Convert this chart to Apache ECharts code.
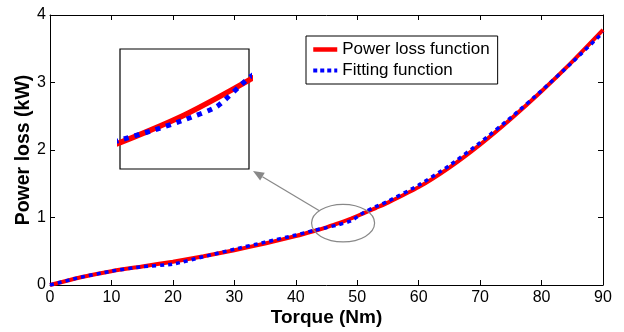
<!DOCTYPE html>
<html>
<head>
<meta charset="utf-8">
<script src="https://cdn.jsdelivr.net/npm/echarts@6/dist/echarts.min.js"></script>
<style>
html,body{margin:0;padding:0;background:#fff;}
#c{width:624px;height:332px;}
</style>
</head>
<body>
<div id="c"></div>
<script>
const torque =    [0, 5, 10, 15, 20, 25, 30, 35, 40, 43, 45, 47, 49, 51, 53, 55, 60, 65, 70, 75, 80, 85, 90];
const powerLoss = [0, 0.115, 0.205, 0.275, 0.345, 0.425, 0.515, 0.615, 0.725, 0.80, 0.855, 0.915, 0.985, 1.06, 1.14, 1.22, 1.45, 1.74, 2.08, 2.46, 2.87, 3.31, 3.78];
const fitting =   [0, 0.115, 0.205, 0.27, 0.31, 0.42, 0.53, 0.635, 0.74, 0.81, 0.85, 0.895, 0.95, 1.07, 1.16, 1.24, 1.48, 1.77, 2.11, 2.48, 2.88, 3.30, 3.74];
const seriesNames = ['Power loss function', 'Fitting function'];
const xTitle = 'Torque (Nm)';
const yTitle = 'Power loss (kW)';

const FONT = '"Liberation Sans", Arial, Helvetica, sans-serif';
const pairs = (ys) => torque.map((t, i) => [t, ys[i]]);

const chart = echarts.init(document.getElementById('c'), null, {renderer: 'canvas'});

const hidden = {
  axisLine: {show: false}, axisTick: {show: false}, axisLabel: {show: false}, splitLine: {show: false}
};
const frameLine = {show: true, onZero: false, lineStyle: {color: '#000', width: 1}};
const frameTick = {show: true, inside: true, length: 5, lineStyle: {color: '#000'}};

const option = {
  animation: false,
  backgroundColor: '#fff',
  textStyle: {fontFamily: FONT},
  grid: [
    {left: 50, top: 15, right: 21, bottom: 43, show: false},
    {left: 120, top: 49, width: 129, height: 120, show: true, borderColor: '#000', borderWidth: 1.2, backgroundColor: '#fff', z: 5}
  ],
  xAxis: [
    {
      type: 'value', gridIndex: 0, min: 0, max: 90, interval: 10, position: 'bottom',
      name: xTitle, nameLocation: 'middle', nameGap: 23, nameMoveOverlap: false,
      nameTextStyle: {fontSize: 19, fontWeight: 'bold', color: '#000', fontFamily: FONT},
      axisLine: frameLine, axisTick: frameTick,
      axisLabel: {fontSize: 16, color: '#000', margin: 5, fontFamily: FONT},
      splitLine: {show: false}
    },
    {
      type: 'value', gridIndex: 0, min: 0, max: 90, interval: 10, position: 'top',
      axisLine: frameLine, axisTick: frameTick,
      axisLabel: {show: false}, splitLine: {show: false}
    },
    Object.assign({type: 'value', gridIndex: 1, min: 43, max: 51}, hidden)
  ],
  yAxis: [
    {
      type: 'value', gridIndex: 0, min: 0, max: 4, interval: 1, position: 'left',
      name: yTitle, nameLocation: 'middle', nameGap: 16, nameMoveOverlap: false,
      nameTextStyle: {fontSize: 19.5, fontWeight: 'bold', color: '#000', fontFamily: FONT},
      axisLine: frameLine, axisTick: frameTick,
      axisLabel: {fontSize: 16, color: '#000', margin: 4, fontFamily: FONT},
      splitLine: {show: false}
    },
    {
      type: 'value', gridIndex: 0, min: 0, max: 4, interval: 1, position: 'right',
      axisLine: frameLine, axisTick: frameTick,
      axisLabel: {show: false}, splitLine: {show: false}
    },
    Object.assign({type: 'value', gridIndex: 1, min: 0.69, max: 1.19}, hidden)
  ],
  legend: {
    data: [
      {name: seriesNames[0], lineStyle: {color: '#ff0000', width: 4.5, type: 'solid'}},
      {name: seriesNames[1], lineStyle: {color: '#0000ff', width: 4, type: [4, 3], cap: 'butt'}}
    ],
    orient: 'vertical', left: 306, top: 36,
    padding: [5, 8, 5, 5], itemGap: 4, itemWidth: 24, itemHeight: 14,
    borderColor: '#000', borderWidth: 1, backgroundColor: '#fff',
    itemStyle: {opacity: 0, borderWidth: 0},
    textStyle: {fontSize: 17, color: '#000', fontFamily: FONT}
  },
  series: [
    {
      name: seriesNames[0], type: 'line', xAxisIndex: 0, yAxisIndex: 0, data: pairs(powerLoss),
      showSymbol: false, symbol: 'none', smooth: 0.2, z: 2,
      lineStyle: {color: '#ff0000', width: 4}, itemStyle: {color: '#ff0000'}
    },
    {
      name: seriesNames[1], type: 'line', xAxisIndex: 0, yAxisIndex: 0, data: pairs(fitting),
      showSymbol: false, symbol: 'none', smooth: 0.2, z: 3,
      lineStyle: {color: '#0000ff', width: 3.5, type: [4, 4], cap: 'butt'}, itemStyle: {color: '#0000ff'}
    },
    {
      name: seriesNames[0], type: 'line', xAxisIndex: 2, yAxisIndex: 2, data: pairs(powerLoss),
      showSymbol: false, symbol: 'none', smooth: 0.2, clip: true, z: 6,
      lineStyle: {color: '#ff0000', width: 5.5}
    },
    {
      name: seriesNames[1], type: 'line', xAxisIndex: 2, yAxisIndex: 2, data: pairs(fitting),
      showSymbol: false, symbol: 'none', smooth: 0.2, clip: true, z: 7,
      lineStyle: {color: '#0000ff', width: 5, type: [5, 6], cap: 'butt'}
    }
  ]
};
chart.setOption(option);

// Annotation: ellipse around the zoomed region and arrow to the inset
const c = chart.convertToPixel({gridIndex: 0}, [47.7, 0.917]);
const rx = 31.5, ry = 18.8;
const corner = chart.convertToPixel({gridIndex: 1}, [51, 0.69]);
const ang = Math.PI + 0.72;
const sx = c[0] + rx * Math.cos(ang), sy = c[1] + ry * Math.sin(ang);
const tx = corner[0] + 4, ty = corner[1] + 2;
const dx = tx - sx, dy = ty - sy, len = Math.sqrt(dx*dx + dy*dy);
const ux = dx / len, uy = dy / len;
const hl = 11, hw = 4.5;
const bx = tx - ux * hl, by = ty - uy * hl;
chart.setOption({
  graphic: [
    {type: 'ellipse', shape: {cx: c[0], cy: c[1], rx: rx, ry: ry}, style: {fill: 'none', stroke: '#888', lineWidth: 1.2}, z: 10},
    {type: 'line', shape: {x1: sx, y1: sy, x2: bx, y2: by}, style: {stroke: '#888', lineWidth: 1.2}, z: 10},
    {type: 'polygon', shape: {points: [[tx, ty], [bx - uy * hw, by + ux * hw], [bx + uy * hw, by - ux * hw]]}, style: {fill: '#888'}, z: 10}
  ]
});
</script>
</body>
</html>
